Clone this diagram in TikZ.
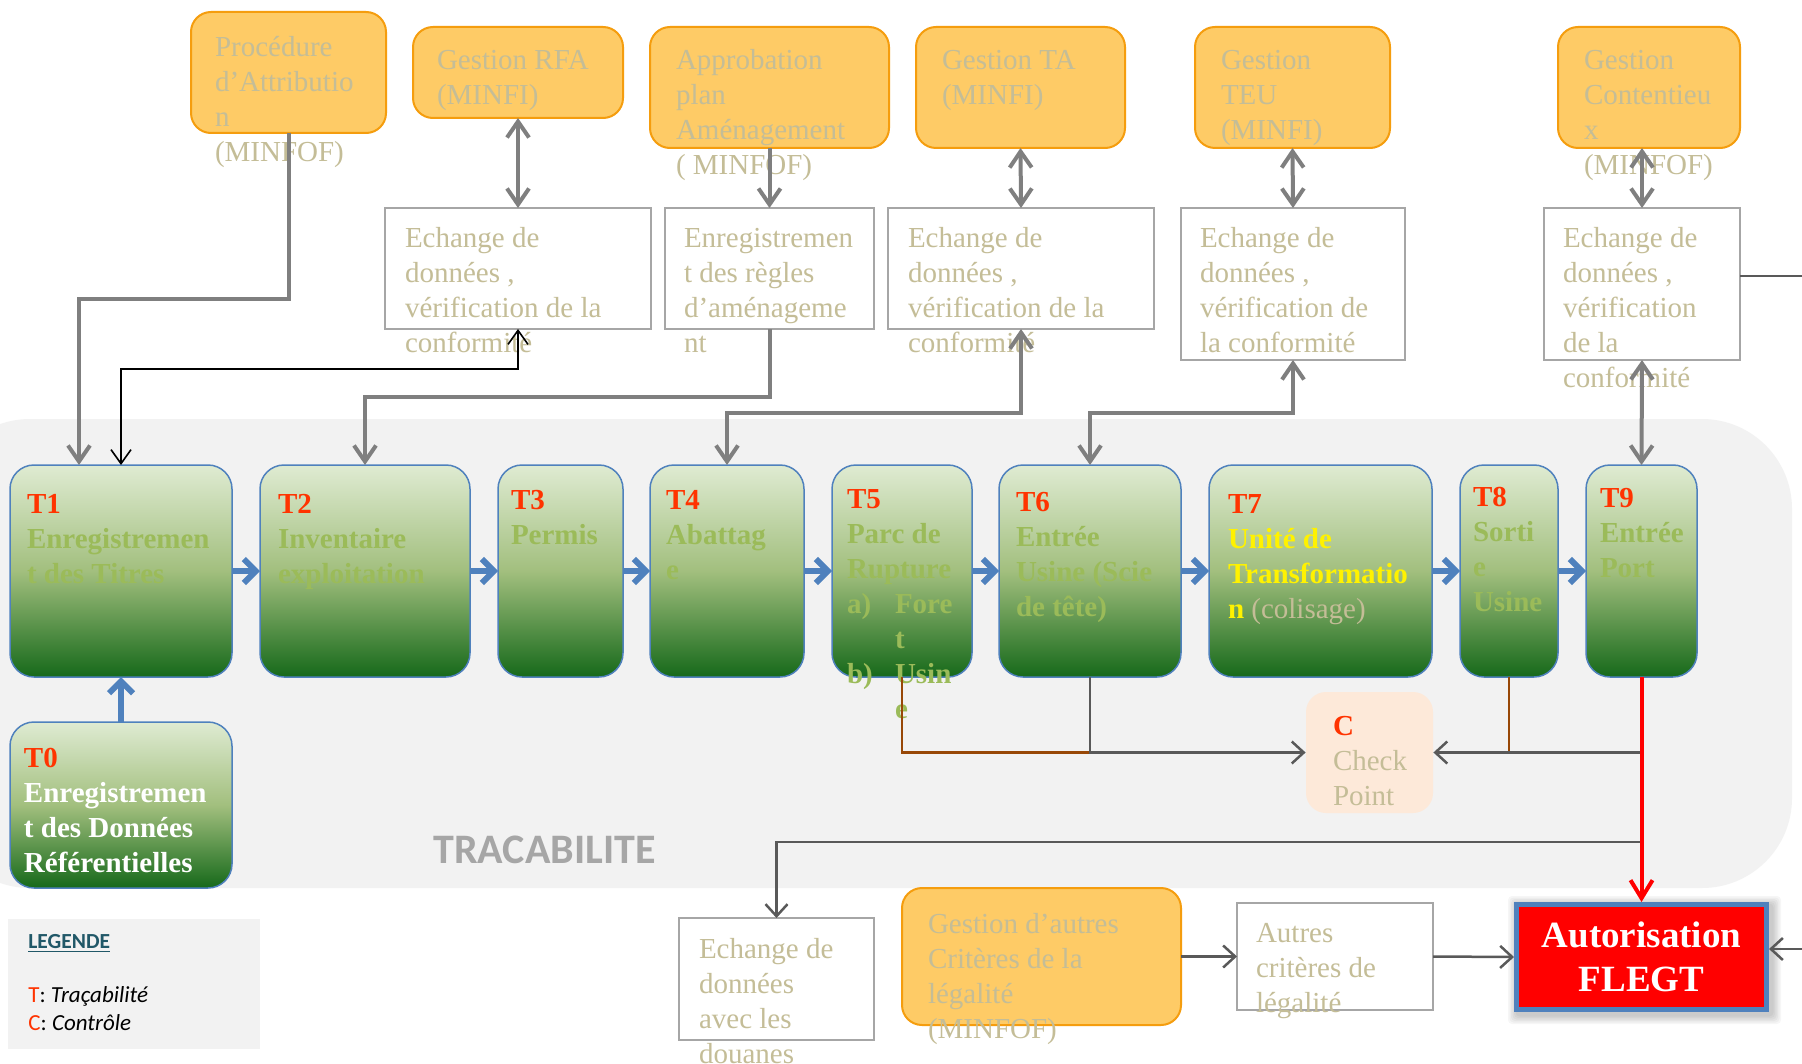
\documentclass[tikz,border=0pt]{standalone}
\usepackage{fontspec}
\setmainfont{Liberation Serif}
\newfontfamily\calibri{Carlito}
\usetikzlibrary{arrows.meta}
\definecolor{tanc}{HTML}{C4BD97}
\definecolor{oliv}{HTML}{9BBB59}
\definecolor{tred}{HTML}{FF3300}
\definecolor{orfill}{HTML}{FECB66}
\definecolor{ordraw}{HTML}{F59D0E}
\definecolor{gline}{HTML}{7F7F7F}
\definecolor{dline}{HTML}{595959}
\definecolor{gbord}{HTML}{A6A6A6}
\definecolor{bblue}{HTML}{4F81BD}
\definecolor{brn}{HTML}{984807}
\definecolor{bgg}{HTML}{F2F2F2}
\definecolor{peach}{HTML}{FDE9D9}
\definecolor{legc}{HTML}{215868}
\definecolor{gtop}{HTML}{DFEBD2}
\definecolor{gmid}{HTML}{A2BF7E}
\definecolor{gbot}{HTML}{16691A}
\definecolor{trac}{HTML}{A6A6A6}
\tikzset{
  gt/.tip={Straight Barb[length=8pt,width=11pt]},
  bt/.tip={Straight Barb[length=7pt,width=10pt]},
  dt/.tip={Straight Barb[length=6pt,width=11pt]},
  blt/.tip={Straight Barb[length=6pt,width=12pt]},
  rt/.tip={Straight Barb[length=9pt,width=11pt]},
  obox/.style={draw=ordraw, fill=orfill, line width=1pt, rounded corners=10pt, inner sep=0pt, outer sep=0pt},
  wbox/.style={draw=gbord, fill=white, line width=1pt, inner sep=0pt, outer sep=0pt},
  tbox/.style={draw=bblue, line width=0.75pt, rounded corners=12pt, top color=gtop, bottom color=gbot, middle color=gmid, inner sep=0pt, outer sep=0pt, minimum height=106pt},
  txt/.style={anchor=north west, inner sep=0pt, outer sep=0pt, align=left, font=\fontsize{14.5}{17.5}\selectfont, text=tanc},
  ttxt/.style={txt, font=\fontsize{14.5}{17.5}\selectfont\bfseries, text=oliv},
  gl/.style={draw=gline, line width=2pt},
  dl/.style={draw=dline, line width=1.25pt},
  blk/.style={draw=black, line width=0.8pt},
  bl/.style={draw=bblue, line width=3pt, -blt},
  brl/.style={draw=brn, line width=1.2pt},
  rl/.style={draw=red, line width=2pt, -rt},
}
\begin{document}
\begin{tikzpicture}[x=0.5pt,y=-0.5pt]
\useasboundingbox (0,0) rectangle (1802,1064);
\clip (0,0) rectangle (1802,1064);
\fill[white] (0,0) rectangle (1802,1064);
\fill[bgg, rounded corners=45pt] (-60,419) rectangle (1792,888);

% legend
\node[fill=bgg, minimum width=126pt, minimum height=65pt, inner sep=0pt] (legend) at (134,984) {};
\node[anchor=base west, inner sep=0pt, font=\calibri\bfseries\fontsize{10.75}{13}\selectfont, text=legc] (legt) at (28,948) {\underline{LEGENDE}};
\node[anchor=base west, inner sep=0pt, font=\calibri\fontsize{11.5}{14}\selectfont] (legT) at (28,1002) {\textcolor{tred}{T}: \textit{Traçabilité}};
\node[anchor=base west, inner sep=0pt, font=\calibri\fontsize{11.5}{14}\selectfont] (legC) at (28,1030) {\textcolor{tred}{C}: \textit{Contrôle}};
\node[anchor=base west, inner sep=0pt, font=\calibri\bfseries\fontsize{21}{25}\selectfont, text=trac] (tracab) at (433,863) {TRACABILITE};

% top orange boxes
\node[obox, minimum width=97.5pt, minimum height=60.5pt] (proc) at (288.5,72.5) {};
\node[obox, minimum width=105pt, minimum height=45.5pt] (rfa) at (518,72.5) {};
\node[obox, minimum width=119.5pt, minimum height=60.5pt] (appr) at (769.5,87.5) {};
\node[obox, minimum width=104.5pt, minimum height=60.5pt] (ta) at (1020.5,87.5) {};
\node[obox, minimum width=97.5pt, minimum height=60.5pt] (teu) at (1292.5,87.5) {};
\node[obox, minimum width=91pt, minimum height=60.5pt] (cont) at (1649,87.5) {};
% exchange boxes
\node[wbox, minimum width=133pt, minimum height=60.5pt] (e1) at (518,268.5) {};
\node[wbox, minimum width=104.5pt, minimum height=60.5pt] (e2) at (769.5,268.5) {};
\node[wbox, minimum width=133pt, minimum height=60.5pt] (e3) at (1021,268.5) {};
\node[wbox, minimum width=112pt, minimum height=76pt] (e4) at (1293,284) {};
\node[wbox, minimum width=98pt, minimum height=76pt] (e5) at (1642,284) {};
% T boxes
\node[tbox, minimum width=111pt] (t1) at (121,571) {};
\node[tbox, minimum width=105pt] (t2) at (365,571) {};
\node[tbox, minimum width=62.5pt] (t3) at (560.5,571) {};
\node[tbox, minimum width=77pt] (t4) at (727,571) {};
\node[tbox, minimum width=70pt] (t5) at (902,571) {};
\node[tbox, minimum width=91pt] (t6) at (1090,571) {};
\node[tbox, minimum width=111.5pt] (t7) at (1320.5,571) {};
\node[tbox, minimum width=49pt] (t8) at (1509,571) {};
\node[tbox, minimum width=55.5pt] (t9) at (1641.5,571) {};
\node[tbox, minimum width=111pt, minimum height=83pt] (t0) at (121,805) {};
% check point
\node[fill=peach, rounded corners=10pt, minimum width=63.5pt, minimum height=60.5pt, inner sep=0pt] (chk) at (1369.5,752.5) {};
% bottom boxes
\node[wbox, minimum width=97.5pt, minimum height=61pt] (dou) at (776.5,979) {};
\node[obox, minimum width=139.5pt, minimum height=68.5pt] (gac) at (1041.5,956.5) {};
\node[wbox, minimum width=98pt, minimum height=53.5pt] (acl) at (1335,956.5) {};
\foreach \i in {1,...,6}
  \fill[black, opacity=0.035, rounded corners=2pt] (1514-1.5*\i+3,902-1.5*\i+3) rectangle (1769+1.5*\i+3,1012+1.5*\i+3);
\node[draw=bblue, line width=2.5pt, fill=red, minimum width=125pt, minimum height=52.5pt, inner sep=0pt, text=white, align=center, font=\fontsize{18.5}{22}\selectfont\bfseries] (flegt) at (1641.5,957) {Autorisation\\FLEGT};

% texts of orange boxes
\node[txt] (xproc) at (215,32.5) {\strut Procédure\\d’Attributio\\n\\(MINFOF)};
\node[txt] (xrfa) at (437,45.5) {\strut Gestion RFA\\(MINFI)};
\node[txt] (xappr) at (676,45.5) {\strut Approbation\\plan\\Aménagement\\( MINFOF)};
\node[txt] (xta) at (942,45.5) {\strut Gestion TA\\(MINFI)};
\node[txt] (xteu) at (1221,45.5) {\strut Gestion\\TEU\\(MINFI)};
\node[txt] (xcont) at (1584,45.5) {\strut Gestion\\Contentieu\\x\\(MINFOF)};
% texts of exchange boxes
\node[txt] (xe1) at (405,222.5) {\strut Echange de\\données ,\\vérification de la\\conformité};
\node[txt] (xe2) at (684,222.5) {\strut Enregistremen\\t des règles\\d’aménageme\\nt};
\node[txt] (xe3) at (908,222.5) {\strut Echange de\\données ,\\vérification de la\\conformité};
\node[txt] (xe4) at (1200,222.5) {\strut Echange de\\données ,\\vérification de\\la conformité};
\node[txt] (xe5) at (1563,222.5) {\strut Echange de\\données ,\\vérification\\de la\\conformité};
% T texts
\node[ttxt] (xt1) at (27,488.5) {\strut\textcolor{tred}{T1}\\Enregistremen\\t des Titres};
\node[ttxt] (xt2) at (278,488.5) {\strut\textcolor{tred}{T2}\\Inventaire\\exploitation};
\node[ttxt] (xt3) at (511,484.5) {\strut\textcolor{tred}{T3}\\Permis};
\node[ttxt] (xt4) at (666,484.5) {\strut\textcolor{tred}{T4}\\Abattag\\e};
\node[ttxt] (xt5) at (847,483.5) {\strut\textcolor{tred}{T5}\\Parc de\\Rupture\\\makebox[24pt][l]{a)}Fore\\\hspace*{24pt}t\\\makebox[24pt][l]{b)}Usin\\\hspace*{24pt}e};
\node[ttxt] (xt6) at (1016,486.5) {\strut\textcolor{tred}{T6}\\Entrée\\Usine (Scie\\de tête)};
\node[ttxt, text=yellow] (xt7) at (1228,488.5) {\strut\textcolor{tred}{T7}\\Unité de\\Transformatio\\n \textcolor{tanc}{\mdseries(colisage)}};
\node[ttxt] (xt8) at (1473,481.5) {\strut\textcolor{tred}{T8}\\Sorti\\e\\Usine};
\node[ttxt] (xt9) at (1600,482.5) {\strut\textcolor{tred}{T9}\\Entrée\\Port};
\node[ttxt, text=white] (xt0) at (24,742.5) {\strut\textcolor{tred}{T0}\\Enregistremen\\t des Données\\Référentielles};
% other texts
\node[txt] (xchk) at (1333,710.5) {\strut\textcolor{tred}{\bfseries C}\\Check\\Point};
\node[txt] (xdou) at (699,933.5) {\strut Echange de\\données\\avec les\\douanes};
\node[txt] (xgac) at (928,908.5) {\strut Gestion d’autres\\Critères de la\\légalité\\(MINFOF)};
\node[txt] (xacl) at (1256,917.5) {\strut Autres\\critères de\\légalité};

% connectors
\coordinate (k1) at (79,299);
\draw[gl, -gt] (proc.south) |- (k1) -- (k1 |- t1.north);
\coordinate (k2) at (518,369);
\draw[blk, bt-bt] (t1.north) |- (k2) -- (e1.south);
\draw[gl, gt-gt] (rfa.south) -- (e1.north);
\draw[gl, -gt] (appr.south) -- (e2.north);
\coordinate (k3) at (769.5,397);
\draw[gl, -gt] (e2.south) -- (k3) -| (t2.north);
\draw[gl, gt-gt] (ta.south) -- (e3.north);
\coordinate (k4) at (1021,413);
\draw[gl, gt-gt] (t4.north) |- (k4) -- (e3.south);
\draw[gl, gt-gt] (teu.south) -- (e4.north);
\coordinate (k5) at (1293,413);
\draw[gl, gt-gt] (t6.north) |- (k5) -- (e4.south);
\draw[gl, gt-gt] (e5.north |- cont.south) -- (e5.north);
\draw[gl, gt-gt] (e5.south) -- (t9.north);
\coordinate (k6) at (1802,276);
\draw[dl] (e5.east |- k6) -- (k6);

\foreach \a/\b in {t1/t2,t2/t3,t3/t4,t4/t5,t5/t6,t6/t7,t7/t8,t8/t9}
  \draw[bl] (\a.east) -- (\b.west);
\draw[bl] (t0.north) -- (t1.south);

\draw[brl] (t5.south) |- (t6.south |- chk.west);
\draw[dl, -dt] (t6.south) |- (chk.west);
\draw[brl] (t8.south) -- (t8.south |- chk.east);
\coordinate (k8) at (1641.5,842);
\draw[dl] (t9.south) -- (k8);
\draw[dl, -dt] (t9.south |- chk.east) -- (chk.east);
\draw[dl, -dt] (k8) -| (dou.north);
\draw[rl] (t9.south) -- (flegt.north);
\draw[dl, -dt] (gac.east) -- (acl.west);
\draw[dl, -dt] (acl.east) -- (flegt.west);
\coordinate (k9) at (1802,949);
\draw[dl, -dt] (k9) -- (flegt.east |- k9);
\end{tikzpicture}
\end{document}
